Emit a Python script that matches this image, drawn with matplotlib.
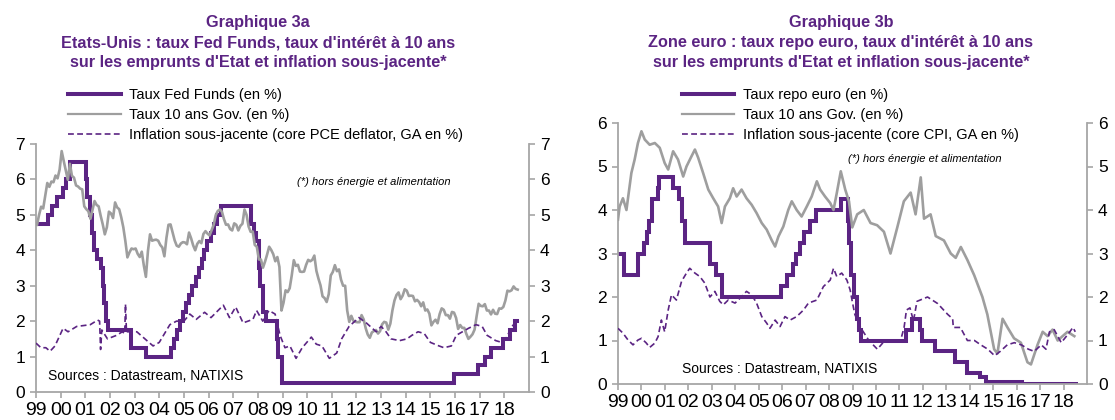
import matplotlib
matplotlib.use('Agg')
import matplotlib.pyplot as plt
from matplotlib.lines import Line2D

plt.rcParams['font.family'] = ['Liberation Sans', 'DejaVu Sans']

PURPLE = '#5B2483'
GRAY = '#9E9E9E'
AXGRAY = '#A6A6A6'

# ---------------- Data ----------------
years = list(range(1999, 2019))
year_labels = ['99', '00', '01', '02', '03', '04', '05', '06', '07', '08', '09',
               '10', '11', '12', '13', '14', '15', '16', '17', '18']

# US: Fed Funds target (step change dates, levels)
us_ff_dates = [1999.0, 1999.49, 1999.65, 1999.87, 2000.09, 2000.22, 2000.37, 2001.01, 2001.08,
               2001.21, 2001.29, 2001.37, 2001.49, 2001.64, 2001.71, 2001.75, 2001.85, 2001.94,
               2002.85, 2003.48, 2004.49, 2004.61, 2004.72, 2004.86, 2004.95, 2005.09, 2005.22,
               2005.33, 2005.49, 2005.60, 2005.72, 2005.83, 2005.95, 2006.08, 2006.24, 2006.36,
               2006.49, 2007.71, 2007.83, 2007.94, 2008.06, 2008.08, 2008.21, 2008.33, 2008.77,
               2008.82, 2008.96, 2015.96, 2016.95, 2017.20, 2017.45, 2017.95, 2018.22, 2018.45,
               2018.50]
us_ff_levels = [4.75, 5.00, 5.25, 5.50, 5.75, 6.00, 6.50, 6.00, 5.50,
                5.00, 4.50, 4.00, 3.75, 3.50, 3.00, 2.50, 2.00, 1.75,
                1.25, 1.00, 1.25, 1.50, 1.75, 2.00, 2.25, 2.50, 2.75,
                3.00, 3.25, 3.50, 3.75, 4.00, 4.25, 4.50, 4.75, 5.00,
                5.25, 4.75, 4.50, 4.25, 3.50, 3.00, 2.25, 2.00, 1.50,
                1.00, 0.25, 0.50, 0.75, 1.00, 1.25, 1.50, 1.75, 2.00,
                2.00]

# US: 10-year government yield (monthly, Jan 1999 - Jul 2018)
us_10y = [
    4.72, 5.00, 5.23, 5.18, 5.54, 5.90, 5.79, 5.94, 5.92, 6.11, 6.03, 6.28,   # 1999
    6.80, 6.52, 6.26, 5.99, 6.44, 6.10, 6.05, 5.83, 5.80, 5.74, 5.72, 5.24,   # 2000
    5.16, 5.10, 4.89, 5.14, 5.39, 5.28, 5.24, 4.97, 4.73, 4.45, 4.65, 5.09,   # 2001
    5.04, 4.91, 5.35, 5.21, 5.16, 4.93, 4.65, 4.26, 3.80, 3.94, 4.05, 4.03,   # 2002
    4.05, 3.90, 3.81, 3.96, 3.57, 3.25, 3.98, 4.45, 4.27, 4.29, 4.30, 4.27,   # 2003
    4.15, 4.08, 3.83, 4.35, 4.72, 4.73, 4.50, 4.28, 4.13, 4.10, 4.19, 4.23,   # 2004
    4.22, 4.17, 4.50, 4.34, 4.14, 4.00, 4.18, 4.26, 4.20, 4.46, 4.54, 4.47,   # 2005
    4.42, 4.57, 4.72, 4.99, 5.11, 5.15, 5.09, 4.88, 4.72, 4.73, 4.60, 4.56,   # 2006
    4.76, 4.72, 4.56, 4.69, 4.75, 5.15, 5.00, 4.67, 4.52, 4.53, 4.15, 4.10,   # 2007
    3.74, 3.74, 3.51, 3.68, 3.88, 4.10, 4.01, 3.89, 3.69, 3.81, 3.53, 2.30,   # 2008
    2.52, 2.87, 2.82, 2.93, 3.29, 3.72, 3.56, 3.59, 3.40, 3.39, 3.40, 3.59,   # 2009
    3.73, 3.69, 3.73, 3.85, 3.42, 3.20, 3.01, 2.70, 2.65, 2.54, 2.76, 3.29,   # 2010
    3.39, 3.58, 3.41, 3.46, 3.17, 3.00, 3.00, 2.30, 1.98, 2.15, 2.01, 1.98,   # 2011
    1.97, 1.97, 2.17, 2.05, 1.80, 1.62, 1.53, 1.68, 1.72, 1.75, 1.65, 1.72,   # 2012
    1.91, 1.98, 1.96, 1.76, 1.93, 2.30, 2.58, 2.74, 2.81, 2.62, 2.72, 2.90,   # 2013
    2.86, 2.71, 2.72, 2.71, 2.56, 2.60, 2.54, 2.42, 2.53, 2.30, 2.33, 2.21,   # 2014
    1.88, 1.98, 2.04, 1.94, 2.20, 2.36, 2.32, 2.17, 2.17, 2.07, 2.26, 2.24,   # 2015
    2.09, 1.78, 1.89, 1.81, 1.81, 1.64, 1.50, 1.56, 1.63, 1.76, 2.14, 2.49,   # 2016
    2.43, 2.42, 2.48, 2.30, 2.30, 2.19, 2.32, 2.21, 2.20, 2.36, 2.35, 2.40,   # 2017
    2.58, 2.86, 2.84, 2.87, 2.98, 2.91, 2.89,                                 # 2018
]
us_10y_dates = [1999 + (i + 0.5) / 12 for i in range(len(us_10y))]

# US: core PCE deflator, y/y %
us_core_dates = [1999.0, 1999.2, 1999.4, 1999.57, 1999.77, 2000.1, 2000.3, 2000.65, 2001.2,
                 2001.5, 2001.58, 2001.62, 2001.67, 2001.9, 2002.27, 2002.5, 2002.6, 2002.63,
                 2002.67, 2003.09, 2003.5, 2003.75, 2004.0, 2004.43, 2004.7, 2005.0, 2005.24,
                 2005.5, 2005.84, 2006.1, 2006.6, 2006.85, 2007.1, 2007.4, 2007.8, 2007.95,
                 2008.2, 2008.45, 2008.7, 2008.9, 2009.1, 2009.3, 2009.55, 2009.8, 2010.17,
                 2010.37, 2010.6, 2010.9, 2011.2, 2011.4, 2011.7, 2012.1, 2012.4, 2012.8,
                 2013.0, 2013.2, 2013.4, 2013.75, 2014.05, 2014.25, 2014.5, 2014.75, 2015.0,
                 2015.35, 2015.55, 2015.85, 2016.05, 2016.3, 2016.55, 2016.85, 2017.1, 2017.3,
                 2017.65, 2017.9, 2018.1, 2018.3, 2018.45]
us_core = [1.38, 1.25, 1.25, 1.15, 1.30, 1.80, 1.70, 1.85, 1.90,
           2.03, 2.00, 1.20, 1.75, 1.50, 1.60, 1.70, 1.65, 2.48,
           1.70, 1.70, 1.45, 1.30, 1.40, 1.90, 2.00, 2.00, 2.20,
           2.05, 2.25, 2.10, 2.45, 2.10, 2.40, 1.95, 2.05, 2.30,
           2.00, 2.30, 2.20, 1.60, 1.25, 1.30, 0.95, 1.25, 1.55,
           1.35, 1.30, 0.95, 1.10, 1.50, 1.85, 2.10, 1.95, 1.70,
           1.85, 1.70, 1.50, 1.45, 1.50, 1.60, 1.70, 1.65, 1.40,
           1.30, 1.25, 1.30, 1.60, 1.70, 1.80, 1.90, 1.85, 1.60,
           1.45, 1.40, 1.55, 1.85, 1.95]

# Euro area: ECB refi (repo) rate
ez_repo_dates = [1999.0, 1999.27, 1999.86, 2000.09, 2000.22, 2000.32, 2000.44, 2000.69, 2000.76,
                 2001.36, 2001.62, 2001.71, 2001.86, 2002.93, 2003.18, 2003.43, 2005.93, 2006.20,
                 2006.45, 2006.61, 2006.78, 2006.95, 2007.20, 2007.45, 2008.53, 2008.79, 2008.87,
                 2008.94, 2009.05, 2009.19, 2009.27, 2009.36, 2011.28, 2011.53, 2011.86, 2011.95,
                 2012.53, 2013.35, 2013.87, 2014.44, 2014.69, 2016.21, 2018.55]
ez_repo_levels = [3.00, 2.50, 3.00, 3.25, 3.50, 3.75, 4.25, 4.50, 4.75,
                  4.50, 4.25, 3.75, 3.25, 2.75, 2.50, 2.00, 2.25, 2.50,
                  2.75, 3.00, 3.25, 3.50, 3.75, 4.00, 4.25, 3.75, 3.25,
                  2.50, 2.00, 1.50, 1.25, 1.00, 1.25, 1.50, 1.25, 1.00,
                  0.75, 0.50, 0.25, 0.15, 0.05, 0.00, 0.00]

# Euro area: 10-year government yield
ez_10y_dates = [1999.0, 1999.07, 1999.21, 1999.36, 1999.57, 1999.71, 1999.85, 2000.0, 2000.14,
                2000.35, 2000.57, 2000.78, 2000.99, 2001.14, 2001.35, 2001.56, 2001.78, 2001.92,
                2002.13, 2002.28, 2002.42, 2002.63, 2002.85, 2003.06, 2003.27, 2003.42, 2003.56,
                2003.77, 2003.91, 2004.06, 2004.27, 2004.48, 2004.7, 2004.91, 2005.13, 2005.34,
                2005.55, 2005.7, 2005.84, 2006.05, 2006.26, 2006.41, 2006.62, 2006.83, 2007.05,
                2007.26, 2007.48, 2007.62, 2007.83, 2008.05, 2008.19, 2008.33, 2008.5, 2008.69,
                2008.85, 2008.99, 2009.2, 2009.48, 2009.77, 2010.05, 2010.34, 2010.62, 2010.91,
                2011.19, 2011.48, 2011.69, 2011.91, 2012.05, 2012.33, 2012.55, 2012.9, 2013.19,
                2013.4, 2013.62, 2013.9, 2014.19, 2014.54, 2014.75, 2015.04, 2015.18, 2015.4,
                2015.61, 2015.89, 2016.18, 2016.46, 2016.61, 2016.89, 2017.11, 2017.32, 2017.53,
                2017.75, 2017.96, 2018.17, 2018.46]
ez_10y = [3.78, 4.08, 4.27, 4.00, 4.85, 5.16, 5.54, 5.81, 5.62,
          5.50, 5.54, 5.43, 5.08, 4.93, 5.35, 5.16, 4.77, 5.00,
          5.23, 5.39, 5.20, 4.85, 4.47, 4.27, 4.08, 3.70, 4.08,
          4.27, 4.50, 4.31, 4.47, 4.27, 4.12, 3.93, 3.70, 3.55,
          3.31, 3.16, 3.39, 3.62, 4.00, 4.20, 4.00, 3.85, 4.08,
          4.31, 4.66, 4.47, 4.31, 4.16, 4.00, 4.39, 4.89, 4.47,
          4.20, 3.60, 3.90, 4.00, 3.70, 3.65, 3.50, 3.00, 3.60,
          4.20, 4.40, 3.90, 4.75, 3.80, 3.90, 3.40, 3.30, 3.00,
          2.90, 3.15, 2.85, 2.50, 2.00, 1.60, 0.80, 0.70, 1.50,
          1.30, 1.05, 0.95, 0.50, 0.45, 0.90, 1.20, 1.10, 1.25,
          1.00, 1.10, 1.20, 1.10]

# Euro area: core CPI, y/y %
ez_core_dates = [1999.0, 1999.21, 1999.43, 1999.64, 1999.85, 2000.0, 2000.21, 2000.35, 2000.57,
                 2000.71, 2000.85, 2000.99, 2001.14, 2001.28, 2001.49, 2001.71, 2001.92, 2002.06,
                 2002.28, 2002.49, 2002.7, 2002.92, 2003.13, 2003.34, 2003.49, 2003.7, 2003.99,
                 2004.2, 2004.48, 2004.7, 2004.91, 2005.13, 2005.34, 2005.48, 2005.7, 2005.91,
                 2006.12, 2006.34, 2006.62, 2006.91, 2007.12, 2007.48, 2007.76, 2008.05, 2008.19,
                 2008.33, 2008.54, 2008.76, 2008.9, 2009.0, 2009.1, 2009.34, 2009.7, 2010.06,
                 2010.3, 2010.6, 2011.05, 2011.2, 2011.3, 2011.45, 2011.6, 2011.75, 2012.2,
                 2012.63, 2013.06, 2013.27, 2013.3, 2013.6, 2013.9, 2014.2, 2014.47, 2014.77,
                 2015.06, 2015.3, 2015.6, 2015.9, 2016.2, 2016.5, 2016.75, 2017.05, 2017.25,
                 2017.4, 2017.6, 2017.9, 2018.2, 2018.4, 2018.5]
ez_core = [1.28, 1.17, 1.01, 0.90, 1.01, 1.05, 0.94, 0.84, 0.94,
           1.09, 1.47, 1.20, 1.70, 2.05, 1.93, 2.36, 2.55, 2.66,
           2.55, 2.47, 2.32, 2.00, 2.13, 1.90, 1.82, 1.93, 1.86,
           1.97, 2.13, 2.05, 1.86, 1.55, 1.40, 1.28, 1.47, 1.32,
           1.55, 1.47, 1.55, 1.70, 1.86, 1.93, 2.24, 2.39, 2.66,
           2.47, 2.55, 2.39, 2.16, 1.87, 1.60, 1.30, 1.00, 0.80,
           0.95, 1.00, 1.00, 1.30, 1.70, 1.75, 1.45, 1.90, 2.00,
           1.85, 1.60, 1.50, 1.30, 1.30, 1.00, 1.00, 0.90, 0.80,
           0.65, 0.75, 0.90, 0.95, 0.90, 0.80, 0.75, 0.90, 0.80,
           1.20, 1.25, 0.95, 1.15, 1.30, 1.20]

# ---------------- Texts ----------------
title_a = ['Graphique 3a',
           "Etats-Unis : taux Fed Funds, taux d'intérêt à 10 ans",
           "sur les emprunts d'Etat et inflation sous-jacente*"]
title_b = ['Graphique 3b',
           "Zone euro : taux repo euro, taux d'intérêt à 10 ans",
           "sur les emprunts d'Etat et inflation sous-jacente*"]
legend_a = ['Taux Fed Funds (en %)', 'Taux 10 ans Gov. (en %)',
            'Inflation sous-jacente (core PCE deflator, GA en %)']
legend_b = ['Taux repo euro (en %)', 'Taux 10 ans Gov. (en %)',
            'Inflation sous-jacente (core CPI, GA en %)']
note = '(*) hors énergie et alimentation'
source = 'Sources : Datastream, NATIXIS'

# ---------------- Figure ----------------
W, H = 1115, 420
fig = plt.figure(figsize=(W / 100, H / 100), dpi=100)


def px_axes(x0, x1, ytop, ybot):
    return fig.add_axes([x0 / W, 1 - ybot / H, (x1 - x0) / W, (ybot - ytop) / H])


axL = px_axes(36, 529, 144, 392)
axR = px_axes(618, 1087, 123, 384)


def style(ax, ymax):
    ax.set_xlim(1999, 2019)
    ax.set_ylim(0, ymax)
    for s in ['left', 'right', 'bottom']:
        ax.spines[s].set_color(AXGRAY)
        ax.spines[s].set_linewidth(1.3)
    ax.spines['top'].set_visible(False)
    ax.set_xticks(years)
    ax.set_xticklabels(year_labels)
    ax.set_yticks(range(0, ymax + 1))
    ax.tick_params(axis='y', which='both', direction='out', length=4, width=1.2,
                   color=AXGRAY, labelsize=12.5, left=True, right=True,
                   labelleft=True, labelright=True, pad=4)
    ax.tick_params(axis='x', direction='out', length=4, width=1.2, color=AXGRAY,
                   labelsize=14, pad=3)
    ax.patch.set_alpha(0)


def draw(ax, sd, sl, gd, gv, cd, cv):
    ax.step(sd, sl, where='post', color=PURPLE, lw=2.9, solid_joinstyle='miter', zorder=2)
    ax.plot(gd, gv, color=GRAY, lw=1.9, zorder=3)
    ax.plot(cd, cv, color=PURPLE, lw=1.2, ls=(0, (3.5, 2)), zorder=4)


style(axL, 7)
style(axR, 6)
draw(axL, us_ff_dates, us_ff_levels, us_10y_dates, us_10y, us_core_dates, us_core)
draw(axR, ez_repo_dates, ez_repo_levels, ez_10y_dates, ez_10y, ez_core_dates, ez_core)

# titles
for cx, lines in [(258, title_a), (841, title_b)]:
    for yy, t in zip([23, 43, 62], lines):
        fig.text(cx / W, 1 - yy / H, t, ha='center', va='center', color=PURPLE,
                 fontsize=11.7, fontweight='bold')


def handles():
    return [Line2D([], [], color=PURPLE, lw=2.9),
            Line2D([], [], color=GRAY, lw=1.6),
            Line2D([], [], color=PURPLE, lw=1.2, ls=(0, (3.5, 2)))]


for hx, labels in [(68, legend_a), (682, legend_b)]:
    fig.legend(handles(), labels, loc='upper left', bbox_to_anchor=(hx / W, 1 - 88 / H),
               frameon=False, fontsize=10.5, handlelength=3.6, handletextpad=0.55,
               labelspacing=0.42, borderpad=0, borderaxespad=0)

fig.text(297 / W, 1 - 182 / H, note, ha='left', va='center', fontsize=8, style='italic')
fig.text(848 / W, 1 - 159 / H, note, ha='left', va='center', fontsize=8, style='italic')
fig.text(48 / W, 1 - 376 / H, source, ha='left', va='center', fontsize=10)
fig.text(682 / W, 1 - 369 / H, source, ha='left', va='center', fontsize=10)

fig.savefig('out.png', dpi=100)
